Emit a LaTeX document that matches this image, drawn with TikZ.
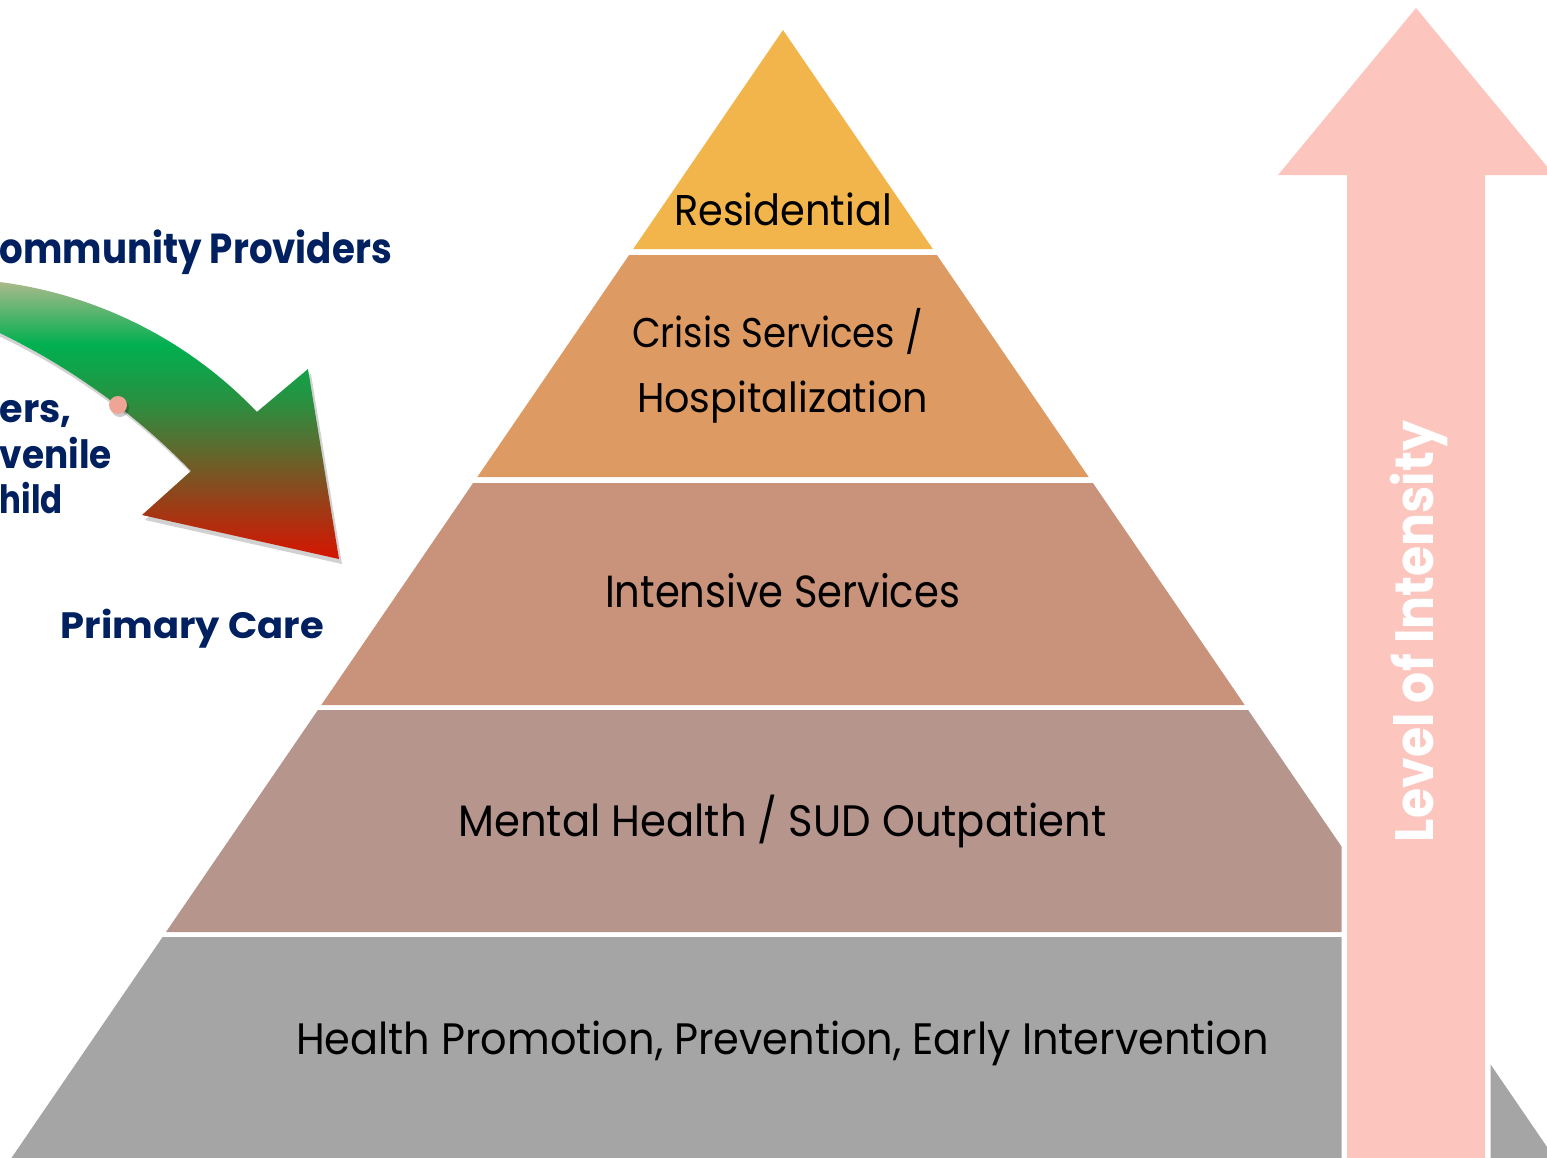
\documentclass[tikz,border=0pt]{standalone}
\usepackage{fontspec}
\usepackage{graphicx}
\newfontfamily\pop{Poppins}
\definecolor{navy}{RGB}{0,32,96}
\definecolor{resid}{RGB}{242,181,75}
\definecolor{crisis}{RGB}{221,155,99}
\definecolor{intens}{RGB}{200,147,122}
\definecolor{mental}{RGB}{182,149,141}
\definecolor{health}{RGB}{165,165,165}
\definecolor{uparrow}{RGB}{252,198,190}
\definecolor{dotpink}{RGB}{238,165,150}
\definecolor{arA}{RGB}{175,185,140}
\definecolor{arB}{RGB}{0,176,80}
\definecolor{arC}{RGB}{40,145,65}
\definecolor{arD}{RGB}{95,105,45}
\definecolor{arE}{RGB}{150,65,25}
\definecolor{arF}{RGB}{215,20,0}
\pgfdeclareverticalshading{curvshade}{100bp}{color(0bp)=(arF); color(25bp)=(arF); color(35.6bp)=(arE); color(44.5bp)=(arD); color(53.5bp)=(arC); color(63.4bp)=(arB); color(75bp)=(arA); color(100bp)=(arA)}
\newsavebox\fitbox
\newcommand\fitw[3]{%
  \sbox\fitbox{\fontsize{#2}{#2}\selectfont #3}%
  \pgfmathsetmacro\fitfac{#1/\the\wd\fitbox}%
  \scalebox{\fitfac}[1]{\usebox\fitbox}}
\tikzset{
  layertext/.style={inner sep=0pt, anchor=base, font=\pop, text=black},
  sidetext/.style={inner sep=0pt, anchor=base east, font=\pop\bfseries, text=navy},
}
\begin{document}
\begin{tikzpicture}[x=1pt,y=-1pt]
\useasboundingbox (0,0) rectangle (1547,1157);
\clip (0,0) rectangle (1547,1157);
% pyramid
\fill[resid] (783,30) -- (932.8,249) -- (633.2,249) -- cycle;
\fill[crisis] (629.1,255) -- (936.9,255) -- (1088.7,477) -- (477.3,477) -- cycle;
\fill[intens] (473.1,483) -- (1092.9,483) -- (1244.7,705) -- (321.3,705) -- cycle;
\fill[mental] (317.9,710) -- (1248.1,710) -- (1400.0,932) -- (166.0,932) -- cycle;
\fill[health] (162.6,937) -- (1403.4,937) -- (1562.8,1170) -- (3.2,1170) -- cycle;
% level arrow
\def\uparrowpath{(1347,1180) -- (1347,175) -- (1278,175) -- (1416,8) -- (1554,175) -- (1485,175) -- (1485,1180) -- cycle}
\draw[white, line width=11pt, line join=miter] \uparrowpath;
\fill[uparrow] \uparrowpath;
% curved arrow
\def\curvpath{plot[domain=85.3:43.7, samples=40] ({-55+431.5*cos(\x)},{710-431.5*sin(\x)}) -- (308,369) -- (339,559) -- (142,515) -- (191,471) -- plot[domain=44.2:66, samples=30] ({-296.7+680*cos(\x)},{944.9-680*sin(\x)}) -- cycle}
\begin{scope}[shift={(3,5)}]
\fill[black, opacity=0.18] \curvpath;
\end{scope}
\shade[shading=curvshade] \curvpath;
\fill[black, opacity=0.2] (120,408) circle (9);
\fill[dotpink] (118,405) circle (9);
% layer labels
\node[layertext] (res) at (783,225) {\fitw{218}{43}{Residential}};
\node[layertext] (cri) at (777.5,347) {\fitw{291}{41.5}{Crisis Services /}};
\node[layertext] (hos) at (782.5,412) {\fitw{291}{41.5}{Hospitalization}};
\node[layertext] (int) at (782.5,607) {\fitw{355}{45}{Intensive Services}};
\node[layertext] (men) at (782.5,836) {\fitw{648}{44}{Mental Health / SUD Outpatient}};
\node[layertext] (hea) at (782.5,1054) {\fitw{973}{44}{Health Promotion, Prevention, Early Intervention}};
% side labels
\node[sidetext] (com) at (392,263) {\fitw{392}{42}{ommunity Providers}};
\node[sidetext] (ers) at (72,422) {\fitw{72}{39}{ers,}};
\node[sidetext] (juv) at (112,468) {\fitw{112}{39}{venile}};
\node[sidetext] (chi) at (63,513) {\fitw{63}{39}{hild}};
\node[sidetext] (pri) at (324,638) {\fitw{263}{36.7}{Primary Care}};
\node[inner sep=0pt, anchor=base, rotate=90, font=\pop\bfseries, text=white] (loi) at (1433,631.5) {\fitw{421}{54}{Level of Intensity}};
\end{tikzpicture}
\end{document}
